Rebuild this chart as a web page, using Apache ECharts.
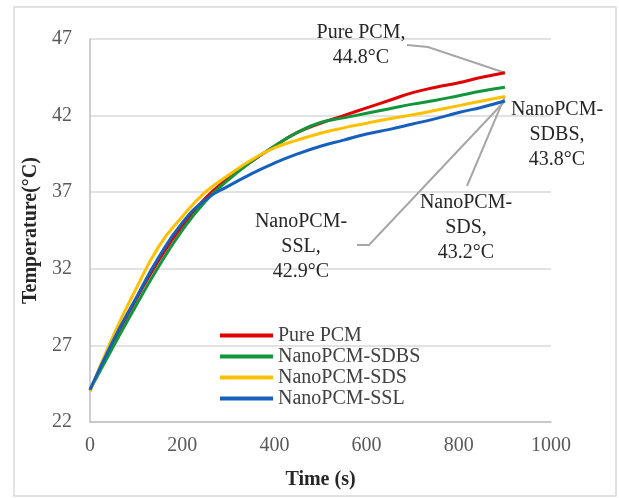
<!DOCTYPE html>
<html>
<head>
<meta charset="utf-8">
<script src="https://cdn.jsdelivr.net/npm/echarts@6/dist/echarts.min.js"></script>
<style>
  html, body { margin: 0; padding: 0; background: #fff; }
  #main { width: 619px; height: 498px; }
</style>
</head>
<body>
<div id="main"></div>
<script>
// 时间轴 (s)
var times = [0, 50, 100, 150, 200, 250, 300, 350, 400, 450, 500, 550, 600, 650, 700, 750, 800, 850, 900]
// 各样品温度 (°C)
var purePCM = [24.1, 27.2, 30.0, 32.6, 34.8, 36.6, 37.9, 39.0, 40.0, 40.9, 41.5, 42.0, 42.5, 43.0, 43.5, 43.85, 44.15, 44.5, 44.8]
var sdbs = [24.1, 26.9, 29.6, 32.2, 34.5, 36.4, 37.8, 39.0, 40.0, 40.9, 41.55, 41.85, 42.15, 42.45, 42.75, 43.0, 43.3, 43.6, 43.85]
var sds = [24.0, 27.6, 30.7, 33.5, 35.4, 37.0, 38.1, 39.1, 39.9, 40.4, 40.85, 41.2, 41.5, 41.8, 42.05, 42.35, 42.65, 42.95, 43.25]
var ssl = [24.1, 27.3, 30.1, 32.8, 35.0, 36.5, 37.4, 38.2, 38.9, 39.5, 40.0, 40.4, 40.8, 41.1, 41.45, 41.8, 42.2, 42.55, 42.95]
var names = ["Pure PCM", "NanoPCM-SDBS", "NanoPCM-SDS", "NanoPCM-SSL"]
var colors = ["#e00000", "#12963c", "#ffc000", "#1560bd"]
var finalTemps = ["44.8", "43.8", "43.2", "42.9"]

var font = "'Liberation Serif', 'Times New Roman', serif"

function pairs(vals) {
    return times.map(function(t, i) { return [t, vals[i]] })
}

var myEcharts = echarts.init(document.getElementById("main"))
var allData = [purePCM, sdbs, sds, ssl]

var option = {
    animation: false,
    color: colors,
    grid: { left: 90, right: 68, top: 39, bottom: 76 },
    xAxis: {
        type: "value",
        min: 0, max: 1000, interval: 200,
        name: "Time (s)",
        nameLocation: "middle",
        nameGap: 48,
        nameTextStyle: { fontFamily: font, fontSize: 20, fontWeight: "bold", color: "#262626" },
        axisLine: { lineStyle: { color: "#bfbfbf", width: 1.5 } },
        axisTick: { show: false },
        axisLabel: {
            fontFamily: font, fontSize: 20, color: "#595959", margin: 14,
            formatter: function(v) { return String(v) } // 不要千位分隔符
        },
        splitLine: { show: false }
    },
    yAxis: {
        type: "value",
        min: 22, max: 47, interval: 5,
        name: "Temperature(°C)",
        nameLocation: "middle",
        nameGap: 46,
        nameTextStyle: { fontFamily: font, fontSize: 20, fontWeight: "bold", color: "#262626" },
        axisLine: { show: true, lineStyle: { color: "#bfbfbf", width: 1.5 } },
        axisTick: { show: false },
        axisLabel: { fontFamily: font, fontSize: 20, color: "#595959", margin: 18 },
        splitLine: { lineStyle: { color: "#d9d9d9", width: 1.5 } }
    },
    legend: {
        orient: "vertical",
        left: 215, top: 320,
        itemWidth: 53, itemHeight: 4, itemGap: 0,
        icon: "rect",
        textStyle: { fontFamily: font, fontSize: 20, color: "#404040", lineHeight: 21 },
        data: names
    },
    series: names.map(function(n, i) {
        return {
            name: n,
            type: "line",
            smooth: true,
            showSymbol: false,
            lineStyle: { width: 3 },
            data: pairs(allData[i])
        }
    })
}
myEcharts.setOption(option)

// 标注：文字位置 + 引线到终点
var labelDefs = [
    { lines: ["Pure PCM,", finalTemps[0] + "°C"], x: 361, y: 33, leader: [[407, 45], [428, 47]], idx: 0 },
    { lines: ["NanoPCM-", "SDBS,", finalTemps[1] + "°C"], x: 557, y: 110, leader: [], idx: 1 },
    { lines: ["NanoPCM-", "SDS,", finalTemps[2] + "°C"], x: 466, y: 203, leader: [[467, 186]], idx: 2 },
    { lines: ["NanoPCM-", "SSL,", finalTemps[3] + "°C"], x: 301, y: 222, leader: [[357, 245], [369, 245]], idx: 3 }
]
var graphics = [{
    type: "rect",
    shape: { x: 14, y: 7, width: 602, height: 489 },
    style: { fill: "none", stroke: "#d9d9d9", lineWidth: 1.5 },
    silent: true
}]
labelDefs.forEach(function(d) {
    var endPt = myEcharts.convertToPixel({ seriesIndex: d.idx }, [times[times.length - 1], allData[d.idx][times.length - 1]])
    if (d.leader.length) {
        graphics.push({
            type: "polyline",
            shape: { points: d.leader.concat([endPt]) },
            style: { stroke: "#a6a6a6", lineWidth: 2, fill: "none" },
            z: 1
        })
    }
    d.lines.forEach(function(s, k) {
        graphics.push({
            type: "text",
            x: d.x, y: d.y + k * 25,
            style: { text: s, fontFamily: font, fontSize: 20, fill: "#262626", align: "center", verticalAlign: "middle" },
            z: 10
        })
    })
})
myEcharts.setOption({ graphic: graphics })
</script>
</body>
</html>
